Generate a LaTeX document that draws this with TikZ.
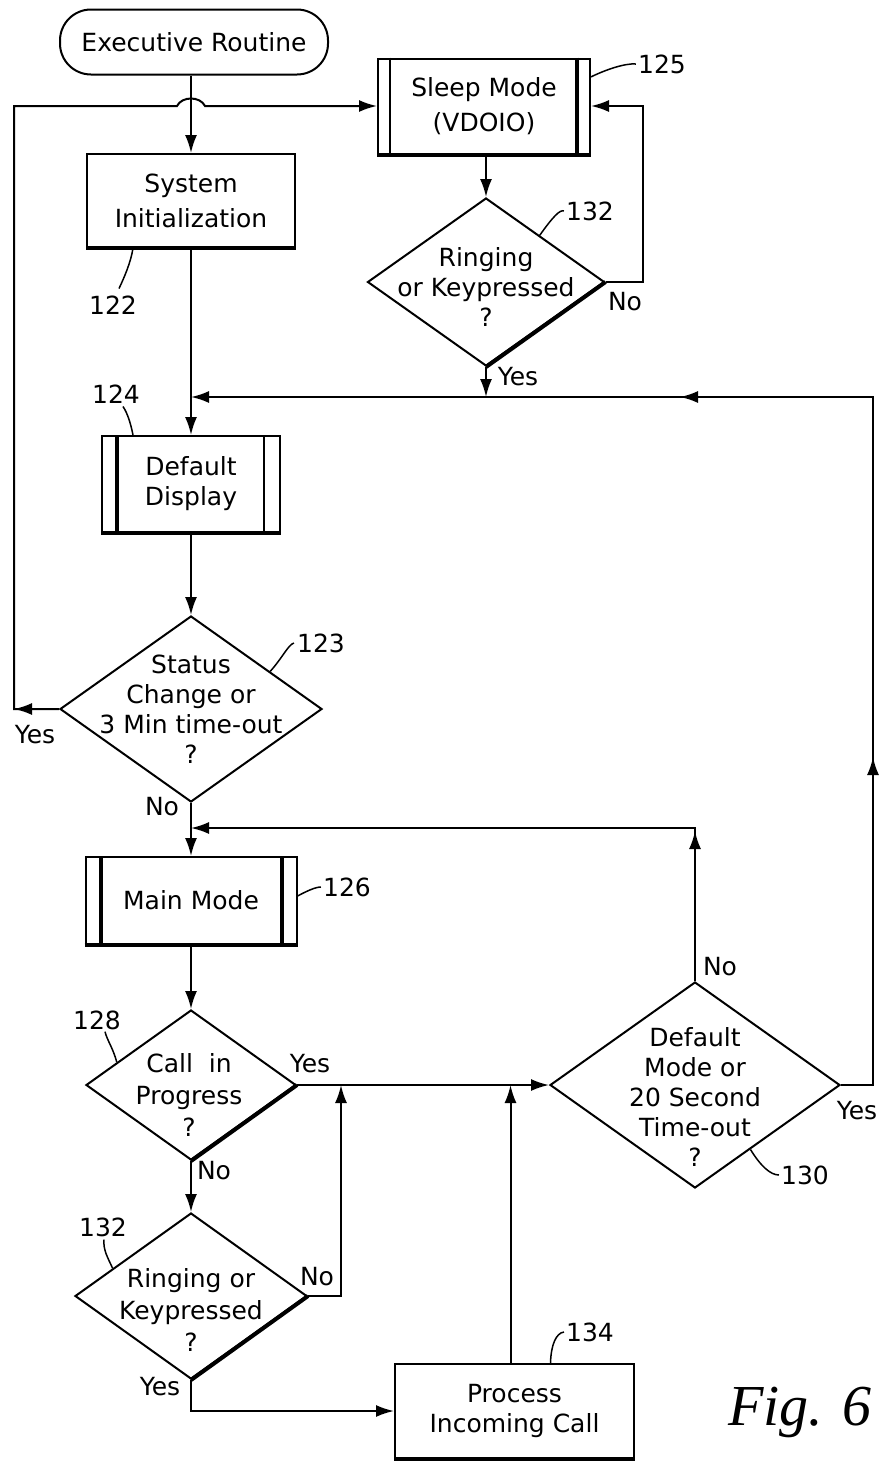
\documentclass[tikz,border=0pt]{standalone}
\usepackage{fontspec}
\setmainfont{DejaVu Sans}
\newfontfamily\figfont{Liberation Serif}
\usetikzlibrary{arrows.meta,shapes.geometric,calc,decorations.markings}
\begin{document}
\begin{tikzpicture}[x=1pt,y=-1pt,
  every node/.style={font=\fontsize{25pt}{30pt}\selectfont},
  ln/.style={line width=2pt},
  tipA/.tip={Latex[length=18pt,width=12pt]},
  arr/.style={line width=2pt,-tipA},
  onemid/.style={postaction={decorate},decoration={markings,mark=at position #1 with {\arrow{tipA}}}},
  twomid/.style 2 args={postaction={decorate},decoration={markings,mark=at position #1 with {\arrow{tipA}},mark=at position #2 with {\arrow{tipA}}}},
  box/.style={draw,line width=2pt,rectangle,inner sep=0pt,align=center},
  dia/.style={draw,line width=2pt,diamond,inner sep=0pt},
  txt/.style={align=center,inner sep=0pt},
  lab/.style={inner sep=1pt},
  lead/.style={line width=1.5pt},
  shade/.style={line width=4pt},
]
\fill[white] (0,0) rectangle (881,1462);
\useasboundingbox (0,0) rectangle (881,1462);

% ---- boxes ----
\node[box,rounded corners=31pt,minimum width=268pt,minimum height=65pt] (exec) at (194,42) {Executive Routine};
\node[box,minimum width=208pt,minimum height=93pt,font=\fontsize{25pt}{35pt}\selectfont] (sys) at (191,200.5) {System\\Initialization};
\node[box,minimum width=212pt,minimum height=95pt,font=\fontsize{25pt}{35pt}\selectfont] (sleep) at (484,106) {Sleep Mode\\(VDOIO)};
\node[box,minimum width=178pt,minimum height=96pt] (disp) at (191,484) {Default\\Display};
\node[box,minimum width=211pt,minimum height=87pt] (mainm) at (191,900.5) {Main Mode};
\node[box,minimum width=239pt,minimum height=94pt] (proc) at (514.5,1411) {Process\\Incoming Call};

% ---- decisions ----
\node[dia,minimum width=237pt,minimum height=168pt] (s132) at (486,282) {};
\node[txt] (s132t) at (486,287) {Ringing\\or Keypressed\\?};
\node[dia,minimum width=262pt,minimum height=186pt] (d123) at (191,709) {};
\node[txt] (d123t) at (191,709) {Status\\Change or\\3 Min time-out\\?};
\node[dia,minimum width=210pt,minimum height=150pt] (d128) at (191,1085) {};
\node[txt,font=\fontsize{25pt}{32pt}\selectfont] (d128t) at (189,1095) {Call\ \ in\\Progress\\?};
\node[dia,minimum width=232pt,minimum height=166pt] (d132b) at (191,1296) {};
\node[txt,font=\fontsize{25pt}{32pt}\selectfont] (d132bt) at (191,1310) {Ringing or\\Keypressed\\?};
\node[dia,minimum width=290pt,minimum height=206pt] (d130) at (695,1085) {};
\node[txt] (d130t) at (695,1097) {Default\\Mode or\\20 Second\\Time-out\\?};

% ---- shading lines ----
\draw[shade] (sys.south west) -- (sys.south east);
\draw[shade] (sleep.south west) -- (sleep.south east);
\draw[shade] (disp.south west) -- (disp.south east);
\draw[shade] (mainm.south west) -- (mainm.south east);
\draw[shade] (proc.south west) -- (proc.south east);
\draw[ln] ([xshift=13pt]sleep.north west) -- ([xshift=13pt]sleep.south west);
\draw[shade] ([xshift=-14pt]sleep.north east) -- ([xshift=-14pt]sleep.south east);
\draw[shade] ([xshift=16pt]disp.north west) -- ([xshift=16pt]disp.south west);
\draw[ln] ([xshift=-17pt]disp.north east) -- ([xshift=-17pt]disp.south east);
\draw[shade] ([xshift=16pt]mainm.north west) -- ([xshift=16pt]mainm.south west);
\draw[shade] ([xshift=-16pt]mainm.north east) -- ([xshift=-16pt]mainm.south east);
\draw[shade] (s132.east) -- (s132.south);
\draw[shade] (d128.east) -- (d128.south);
\draw[shade] (d132b.east) -- (d132b.south);

% ---- coordinates ----
\coordinate (L1) at (14,709);
\coordinate (L2) at (14,106);
\coordinate (J1) at (177,106);
\coordinate (J2) at (205,106);
\coordinate (R1) at (643,282);
\coordinate (R2) at (643,106);
\coordinate (jY) at (191,397);
\coordinate (E1) at (873,1085);
\coordinate (E3) at (873,397);
\coordinate (N1) at (695,828);
\coordinate (jN) at (191,828);
\coordinate (B1) at (341,1296);
\coordinate (B2) at (341,1085);

% ---- connectors ----
\draw[arr] (exec.south -| sys.north) -- (sys.north);
\draw[arr] (sys.south) -- (disp.north);
\draw[arr] (disp.south) -- (d123.north);
\draw[arr] (d123.south) -- (mainm.north);
\draw[arr] (mainm.south) -- (d128.north);
\draw[arr] (d128.south) -- (d132b.north);
\draw[arr] (d128.east) -- (d130.west);
\draw[arr] (s132.north |- sleep.south) -- (s132.north);
\draw[arr,onemid=45pt] (d123.west) -- (L1) -- (L2) -- (J1) .. controls ($(J1)+(5,-10)$) and ($(J2)+(-5,-10)$) .. (J2) -- (sleep.west);
\draw[arr] (s132.east) -- (R1) -- (R2) -- (sleep.east);
\draw[arr] (s132.south) -- (s132.south |- jY);
\draw[arr,twomid={360pt}{913pt}] (d130.east) -- (E1) -- (E3) -- (jY);
\draw[arr,onemid=150pt] (d130.north) -- (N1) -- (jN);
\draw[arr] (d132b.east) -- (B1) -- (B2);
\draw[arr] (d132b.south) |- (proc.west);
\draw[arr] ([xshift=-4pt]proc.north) -- ([xshift=-4pt]proc.north |- d130.west);

% ---- yes / no ----
\node[lab] (y123) at (35,735) {Yes};
\node[lab] (n123) at (162,807) {No};
\node[lab] (n132) at (625,302) {No};
\node[lab] (y132) at (518,377) {Yes};
\node[lab] (y128) at (310,1064) {Yes};
\node[lab] (n128) at (214,1171) {No};
\node[lab] (n132b) at (317,1277) {No};
\node[lab] (y132b) at (160,1387) {Yes};
\node[lab] (n130) at (720,967) {No};
\node[lab] (y130) at (857,1111) {Yes};

% ---- reference numerals ----
\node[lab] (l122) at (113,305) {122};
\node[lab] (l124) at (116,394) {124};
\node[lab] (l123) at (321,643) {123};
\node[lab] (l125) at (662,64) {125};
\node[lab] (l132) at (590,211) {132};
\node[lab] (l126) at (347,887) {126};
\node[lab] (l128) at (97,1020) {128};
\node[lab] (l132b) at (103,1227) {132};
\node[lab] (l134) at (590,1332) {134};
\node[lab] (l130) at (805,1175) {130};

\draw[lead] ([xshift=-58pt]sys.south) .. controls (131,262) and (124,278) .. ([xshift=6pt,yshift=6pt]l122.north);
\draw[lead] ([xshift=-58pt]disp.north) .. controls (131,425) and (128,414) .. ([xshift=7pt,yshift=-2pt]l124.south);
\draw[lead] ($(d123.north)!0.6!(d123.east)$) .. controls (283,657) and (288,645) .. ([xshift=-2pt]l123.west);
\draw[lead] ($(sleep.north east)!0.2!(sleep.south east)$) .. controls (605,70) and (625,63) .. ([xshift=-1pt]l125.west);
\draw[lead] ($(s132.north)!0.45!(s132.east)$) .. controls (552,218) and (560,209) .. ([xshift=-1pt]l132.west);
\draw[lead] ($(mainm.north east)!0.45!(mainm.south east)$) .. controls (305,892) and (315,887) .. ([xshift=-1pt]l126.west);
\draw[lead] ($(d128.west)!0.3!(d128.north)$) .. controls (113,1048) and (107,1040) .. ([xshift=8pt,yshift=-1pt]l128.south);
\draw[lead] ($(d132b.west)!0.33!(d132b.north)$) .. controls (108,1258) and (103,1250) .. ([xshift=1pt,yshift=-2pt]l132b.south);
\draw[lead] ([xshift=36pt]proc.north) .. controls (551,1345) and (556,1333) .. ([xshift=-1pt]l134.west);
\draw[lead] ($(d130.east)!0.62!(d130.south)$) .. controls (760,1165) and (770,1175) .. ([xshift=-1pt]l130.west);

% ---- figure caption ----
\node[font=\figfont\itshape\fontsize{58pt}{60pt}\selectfont] (fig) at (800,1412) {Fig. 6};
\end{tikzpicture}
\end{document}
